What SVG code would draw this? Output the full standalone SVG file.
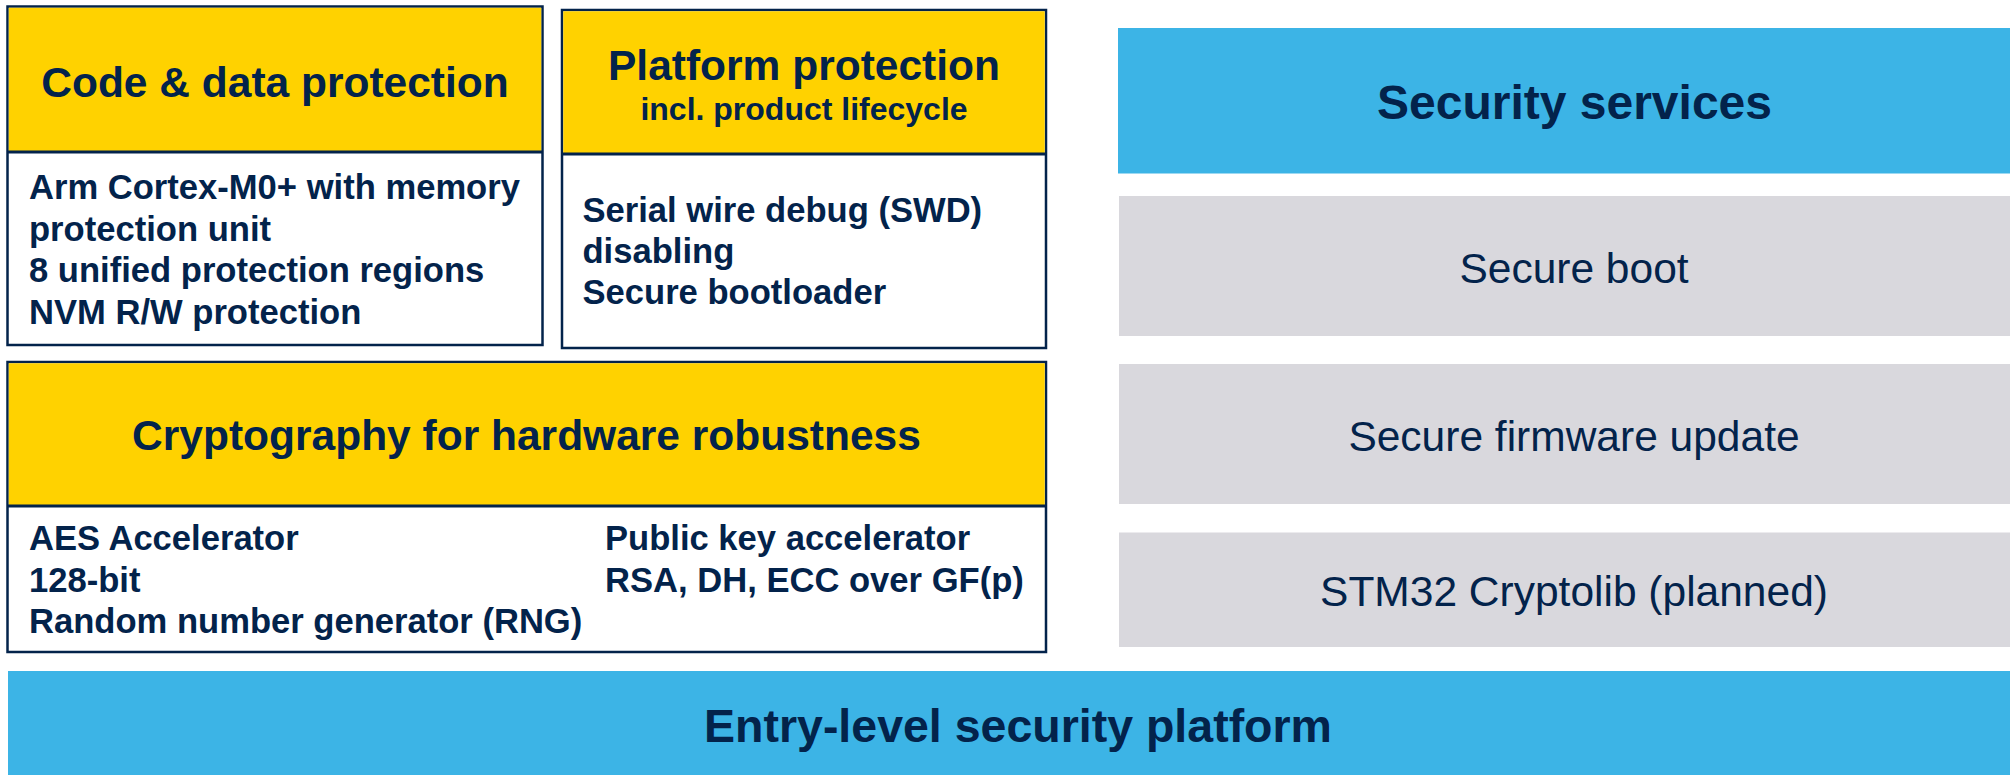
<svg xmlns="http://www.w3.org/2000/svg" width="2010" height="775" viewBox="0 0 2010 775">
<style>
.box{fill:#FFFFFF;stroke:#03234B;stroke-width:2.5}
.hdr{fill:#FFD200}
.sep{stroke:#03234B;stroke-width:3}
.t{font-family:"Liberation Sans",Arial,sans-serif;fill:#03234B}
.b{font-weight:bold}
.title{font-size:42.5px;font-weight:bold;text-anchor:middle}
.body{font-size:34.6px;font-weight:bold}
.svc{font-size:42.5px;text-anchor:middle}
.blue{fill:#3CB4E6}
.gray{fill:#D9D8DD}
</style>
<rect width="2010" height="775" fill="#FFFFFF"/>

<g id="code-data-protection">
<rect class="box" x="7.5" y="6.5" width="535" height="338.5"/>
<rect class="hdr" x="8.75" y="7.75" width="532.5" height="144.25"/>
<line class="sep" x1="7.5" y1="152" x2="542.5" y2="152"/>
<text class="t title" x="275" y="96.5">Code &amp; data protection</text>
<text class="t body" x="29" y="199">Arm Cortex-M0+ with memory</text>
<text class="t body" x="29" y="240.5">protection unit</text>
<text class="t body" x="29" y="282">8 unified protection regions</text>
<text class="t body" x="29" y="323.5">NVM R/W protection</text>
</g>

<g id="platform-protection">
<rect class="box" x="562" y="10" width="484" height="338"/>
<rect class="hdr" x="563.25" y="11.25" width="481.5" height="142.75"/>
<line class="sep" x1="562" y1="154" x2="1046" y2="154"/>
<text class="t title" x="804" y="80">Platform protection</text>
<text class="t b" x="804" y="120" font-size="32" text-anchor="middle">incl. product lifecycle</text>
<text class="t body" x="582.5" y="221.5">Serial wire debug (SWD)</text>
<text class="t body" x="582.5" y="262.5">disabling</text>
<text class="t body" x="582.5" y="303.5">Secure bootloader</text>
</g>

<g id="cryptography">
<rect class="box" x="7.5" y="362" width="1038.5" height="290"/>
<rect class="hdr" x="8.75" y="363.25" width="1036" height="142.75"/>
<line class="sep" x1="7.5" y1="506" x2="1046" y2="506"/>
<text class="t title" x="526.5" y="450">Cryptography for hardware robustness</text>
<text class="t body" x="29" y="550">AES Accelerator</text>
<text class="t body" x="29" y="591.5">128-bit</text>
<text class="t body" x="29" y="633">Random number generator (RNG)</text>
<text class="t body" x="605" y="550">Public key accelerator</text>
<text class="t body" x="605" y="591.5">RSA, DH, ECC over GF(p)</text>
</g>

<g id="security-services">
<rect class="blue" x="1118" y="28" width="892" height="145.5"/>
<text class="t b" x="1574.5" y="118.5" font-size="48" text-anchor="middle">Security services</text>
</g>

<g id="secure-boot">
<rect class="gray" x="1119" y="196" width="891" height="140"/>
<text class="t svc" x="1574" y="282.5">Secure boot</text>
</g>

<g id="secure-firmware-update">
<rect class="gray" x="1119" y="364" width="891" height="140"/>
<text class="t svc" x="1574" y="450.5">Secure firmware update</text>
</g>

<g id="stm32-cryptolib">
<rect class="gray" x="1119" y="532.5" width="891" height="114.5"/>
<text class="t svc" x="1574" y="606">STM32 Cryptolib (planned)</text>
</g>

<g id="entry-level-platform">
<rect class="blue" x="8" y="671" width="2002" height="104"/>
<text class="t b" x="1018" y="741.5" font-size="46.5" text-anchor="middle">Entry-level security platform</text>
</g>

<g id="connectors"></g>
</svg>
